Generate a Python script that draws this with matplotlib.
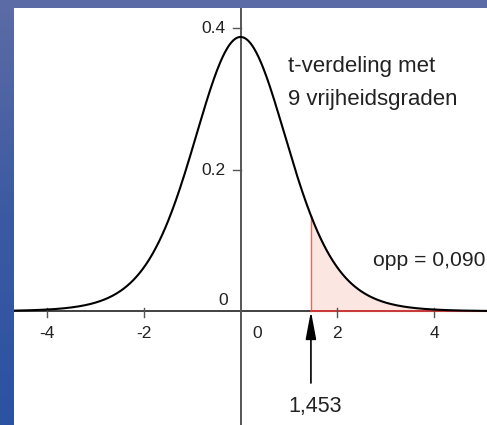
import math
import numpy as np
import matplotlib
matplotlib.use("Agg")
import matplotlib.pyplot as plt
from matplotlib.colors import LinearSegmentedColormap

# ---- chart parameters / data ----
df_free = 9                      # vrijheidsgraden
t_value = 1.453                  # grenswaarde
area_label = "opp = 0,090"
t_label = "1,453"
title_lines = ["t-verdeling met", "9 vrijheidsgraden"]
x_ticks = [-4, -2, 0, 2, 4]
x_tick_labels = ["-4", "-2", "0", "2", "4"]
y_ticks = [0.2, 0.4]
y_tick_labels = ["0.2", "0.4"]

plt.rcParams['font.family'] = ['Liberation Sans', 'DejaVu Sans']

def t_pdf(x, k):
    c = math.gamma((k + 1) / 2) / (math.sqrt(k * math.pi) * math.gamma(k / 2))
    return c * (1 + x ** 2 / k) ** (-(k + 1) / 2)

W, H = 487, 425
fig = plt.figure(figsize=(W / 100, H / 100), dpi=100)

# blue gradient frame
bg = fig.add_axes([0, 0, 1, 1])
grad = np.linspace(0, 1, 256).reshape(-1, 1)
cmap = LinearSegmentedColormap.from_list("bg", ["#5c6ca6", "#3c5aa2", "#2c52a2"])
bg.imshow(grad, aspect="auto", cmap=cmap, extent=[0, 1, 0, 1], origin="upper")
bg.set_axis_off()

xl, xr = 14, 487
yt, yb = 8, 425
ax = fig.add_axes([xl / W, 0, (xr - xl) / W, (yb - yt) / H])
ax.set_facecolor("white")
XMIN, XMAX = -4.68, 5.09
ax.set_xlim(XMIN, XMAX)
ax.set_ylim(-0.161, 0.429)
for s in ax.spines.values():
    s.set_visible(False)
ax.set_xticks([])
ax.set_yticks([])

TXT = "#222222"
TICK_FS = 12.5

# axes lines
ax.axhline(0, color="#333333", lw=1.3, zorder=2)
ax.axvline(0, color="#555555", lw=1.4, zorder=2)

# curve
xs = np.linspace(XMIN, XMAX, 600)
ys = np.array([t_pdf(v, df_free) for v in xs])
ax.plot(xs, ys, color="black", lw=1.5, zorder=4)

# shaded tail
xf = np.concatenate([[t_value], xs[xs >= t_value]])
yf = np.array([t_pdf(v, df_free) for v in xf])
ax.fill_between(xf, 0, yf, color="#fce6e1", zorder=1)
ax.plot([t_value, t_value], [0, t_pdf(t_value, df_free)], color="#dd7060", lw=1.0, zorder=3)
ax.plot([t_value, XMAX], [0, 0], color="#d83a3a", lw=1.3, zorder=3)

# ticks
for t, lab in zip(x_ticks, x_tick_labels):
    if t != 0:
        ax.plot([t, t], [-0.008, 0.004], color="#555555", lw=1.0, zorder=3)
        ax.text(t, -0.0375, lab, ha="center", va="baseline", fontsize=TICK_FS, color=TXT)
    else:
        ax.text(0.349, -0.0375, lab, ha="center", va="baseline", fontsize=TICK_FS, color=TXT)
for t, lab in zip(y_ticks, y_tick_labels):
    ax.plot([-0.15, 0], [t, t], color="#555555", lw=1.0, zorder=3)
    ax.text(-0.31, t - 0.0068, lab, ha="right", va="baseline", fontsize=TICK_FS, color=TXT)
ax.text(-0.27, 0.0085, "0", ha="right", va="baseline", fontsize=TICK_FS, color=TXT)

# arrow for t value
ax.annotate("", xy=(t_value, 0), xytext=(t_value, -0.1016),
            arrowprops=dict(arrowstyle="-|>,head_length=1.7,head_width=0.32",
                            color="black", lw=1.2, shrinkA=0, shrinkB=0), zorder=5)
ax.text(1.547, -0.1426, t_label, ha="center", va="baseline", fontsize=15.5, color=TXT)

# annotations
ax.text(0.979, 0.338, title_lines[0], ha="left", va="baseline", fontsize=16, color=TXT)
ax.text(0.979, 0.292, title_lines[1], ha="left", va="baseline", fontsize=16, color=TXT)
ax.text(2.735, 0.064, area_label, ha="left", va="baseline", fontsize=15.2, color=TXT)

fig.savefig("out.png", dpi=100)
